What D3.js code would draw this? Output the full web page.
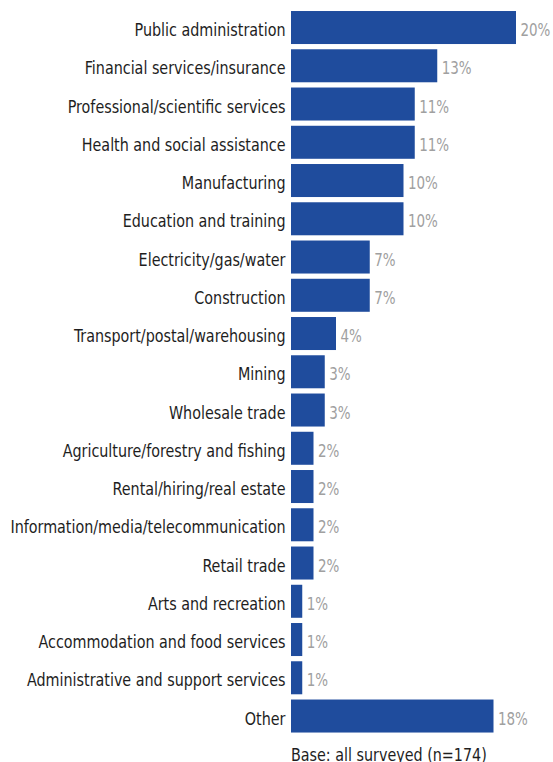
<!DOCTYPE html>
<html>
<head>
<meta charset="utf-8">
<script src="https://cdn.jsdelivr.net/npm/d3@7"></script>
<style>
  html, body { margin: 0; padding: 0; background: #ffffff; }
  svg { display: block; }
  text { font-family: "DejaVu Sans Condensed", "Liberation Sans Narrow", sans-serif; }
</style>
</head>
<body>
<svg id="chart" width="553" height="762"></svg>
<script>
// Industry of respondents, share of all surveyed (%)
const categories = [
  "Public administration",
  "Financial services/insurance",
  "Professional/scientific services",
  "Health and social assistance",
  "Manufacturing",
  "Education and training",
  "Electricity/gas/water",
  "Construction",
  "Transport/postal/warehousing",
  "Mining",
  "Wholesale trade",
  "Agriculture/forestry and fishing",
  "Rental/hiring/real estate",
  "Information/media/telecommunication",
  "Retail trade",
  "Arts and recreation",
  "Accommodation and food services",
  "Administrative and support services",
  "Other"
];
const values = [20, 13, 11, 11, 10, 10, 7, 7, 4, 3, 3, 2, 2, 2, 2, 1, 1, 1, 18];
const baseNote = "Base: all surveyed (n=174)";

const svg = d3.select("#chart");
const barLeft = 291;
const fontSize = 17.8;
const squeeze = 0.895;      // narrow the glyphs horizontally
const baselineShift = 8.5;  // text baseline below bar centre

const x = d3.scaleLinear().domain([0, 20]).range([barLeft, 516]);
const y = d3.scaleBand()
  .domain(categories)
  .range([8.4, 8.4 + categories.length * 38.25])
  .paddingInner(0.137)
  .paddingOuter(0.0685);

const data = categories.map((c, i) => ({ cat: c, val: values[i] }));
const mid = d => y(d.cat) + y.bandwidth() / 2;

// bars
svg.append("g").selectAll("rect")
  .data(data)
  .join("rect")
  .attr("x", x(0))
  .attr("y", d => y(d.cat))
  .attr("width", d => x(d.val) - x(0))
  .attr("height", y.bandwidth())
  .attr("fill", "#1f4c9d");

// category labels
svg.append("g").selectAll("text")
  .data(data)
  .join("text")
  .attr("transform", d => `translate(${barLeft - 5.5},${mid(d) + baselineShift}) scale(${squeeze},1)`)
  .attr("text-anchor", "end")
  .attr("font-size", fontSize)
  .attr("fill", "#1e1e1e")
  .text(d => d.cat);

// value labels
svg.append("g").selectAll("text")
  .data(data)
  .join("text")
  .attr("transform", d => `translate(${x(d.val) + 4.5},${mid(d) + baselineShift}) scale(0.86,1)`)
  .attr("font-size", 17.4)
  .attr("fill", "#a0a0a0")
  .text(d => d.val + "%");

// base note
svg.append("text")
  .attr("transform", `translate(${barLeft},761) scale(${squeeze},1)`)
  .attr("font-size", fontSize)
  .attr("fill", "#1e1e1e")
  .text(baseNote);
</script>
</body>
</html>
